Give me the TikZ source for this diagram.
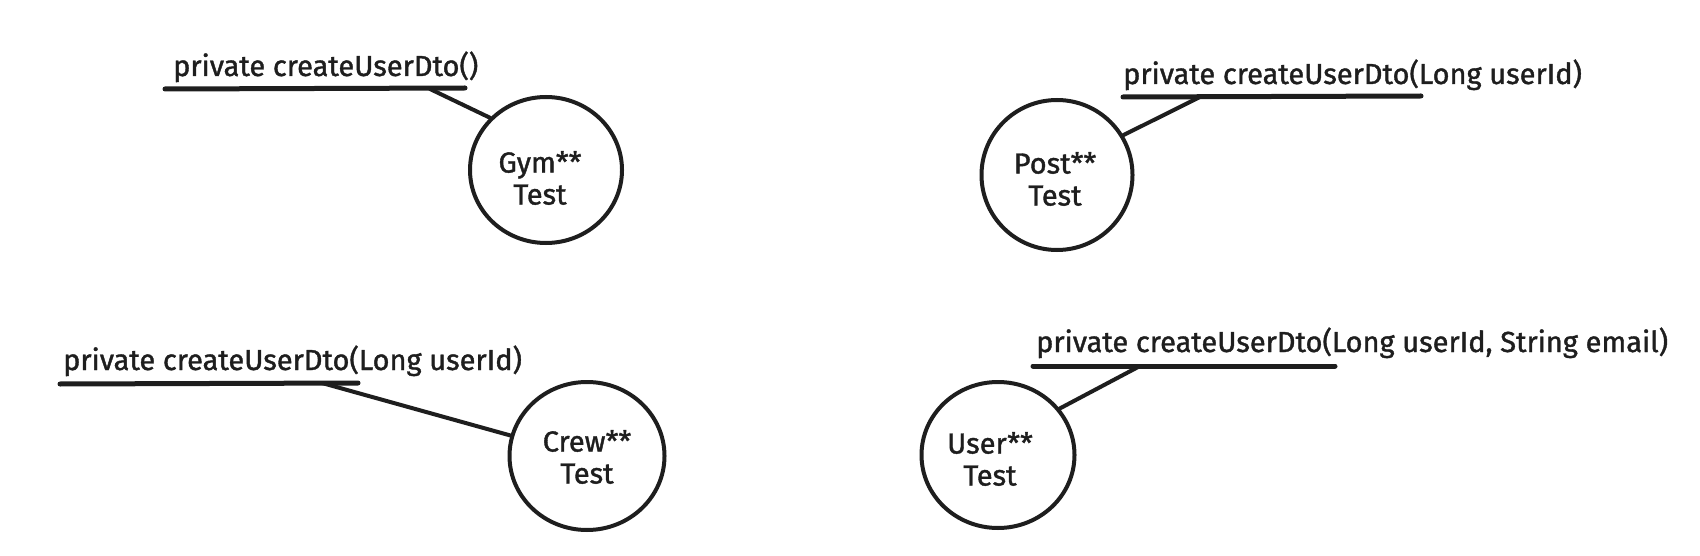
\documentclass[tikz,border=0pt]{standalone}
\usepackage{fontspec}
\setmainfont[FakeBold=1.3,AutoFakeBold=1.3]{Fira Sans}
\usetikzlibrary{shapes.geometric}
\definecolor{ink}{HTML}{1E1E1E}
\begin{document}
\begin{tikzpicture}[x=1pt,y=-1pt,
  uline/.style={draw=ink,line width=5pt,line cap=round},
  conn/.style={draw=ink,line width=4pt,line cap=round},
  ring/.style={ellipse,draw=ink,line width=4pt,inner sep=0pt},
  sig/.style={anchor=base west,inner sep=0pt,text=ink,font=\fontsize{29}{32}\selectfont\bfseries},
  lbl/.style={align=center,inner sep=0pt,text=ink,font=\fontsize{29}{32}\selectfont\bfseries}]
\useasboundingbox (0,0) rectangle (1700,556);

% Gym
\node[sig] (gyms) at (173,76) {private createUserDto()};
\coordinate (gymu1) at (165,89);
\coordinate (gymu2) at (465,88);
\coordinate (gymc) at (430,89);
\draw[uline] (gymu1) -- (gymu2);
\node[ring,minimum width=152pt,minimum height=146pt] (gym) at (546,170) {};
\node[lbl] (gymt) at (540,178) {Gym**\\Test};
\draw[conn] (gymc) -- (gym.137);

% Post
\node[sig] (posts) at (1123,84) {private createUserDto(Long userId)};
\coordinate (postu1) at (1123,97);
\coordinate (postu2) at (1421,96);
\coordinate (postc) at (1200,97);
\draw[uline] (postu1) -- (postu2);
\node[ring,minimum width=151pt,minimum height=150pt] (post) at (1057,175) {};
\node[lbl] (postt) at (1055,179) {Post**\\Test};
\draw[conn] (postc) -- (post.31);

% Crew
\node[sig] (crews) at (63,370) {private createUserDto(Long userId)};
\coordinate (crewu1) at (60,384);
\coordinate (crewu2) at (358,383);
\coordinate (crewc) at (322,383);
\draw[uline] (crewu1) -- (crewu2);
\node[ring,minimum width=155pt,minimum height=148pt] (crew) at (587,456) {};
\node[lbl] (crewt) at (587,457) {Crew**\\Test};
\draw[conn] (crewc) -- (crew.165);

% User
\node[sig] (users) at (1036,352) {private createUserDto(Long userId, String email)};
\coordinate (useru1) at (1033,366);
\coordinate (useru2) at (1335,366);
\coordinate (userc) at (1140,366);
\draw[uline] (useru1) -- (useru2);
\node[ring,minimum width=153pt,minimum height=146pt] (user) at (998,455) {};
\node[lbl] (usert) at (990,459) {User**\\Test};
\draw[conn] (userc) -- (user.37);
\end{tikzpicture}
\end{document}
